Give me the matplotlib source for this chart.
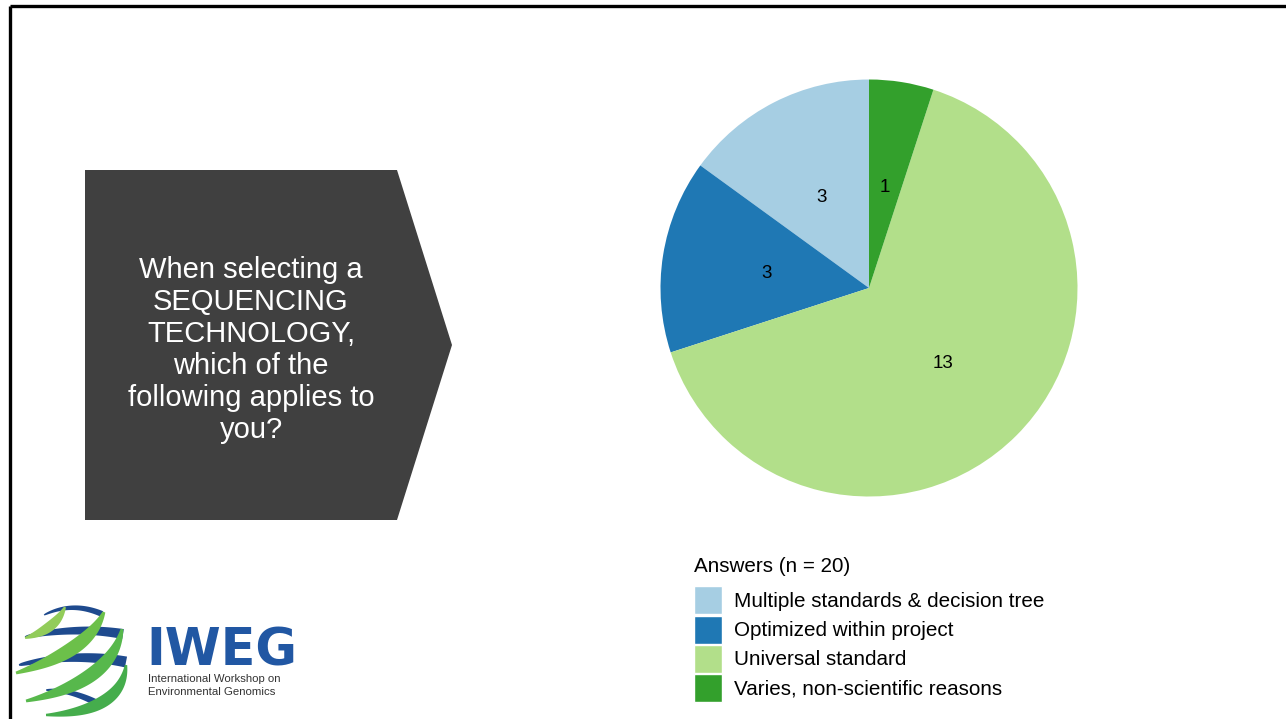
import matplotlib

matplotlib.use("Agg", force=True)

import matplotlib.pyplot as plt
from matplotlib.patches import Polygon
import numpy as np

plt.rcParams["font.family"] = ["Liberation Sans", "DejaVu Sans"]

# survey answers, counter-clockwise from 12 o'clock
categories = [
    "Multiple standards & decision tree",
    "Optimized within project",
    "Universal standard",
    "Varies, non-scientific reasons",
]
counts = [3, 3, 13, 1]
colors = ["#a6cee3", "#1f78b4", "#b2df8a", "#33a02c"]
legend_title = "Answers (n = 20)"
question = "When selecting a\nSEQUENCING\nTECHNOLOGY,\nwhich of the\nfollowing applies to\nyou?"

W, H = 1286, 719
fig = plt.figure(figsize=(W / 100, H / 100), dpi=100)
fig.patch.set_facecolor("white")

# overlay in pixel coordinates for the slide decoration
bg = fig.add_axes([0, 0, 1, 1])
bg.set_xlim(0, W)
bg.set_ylim(H, 0)
bg.axis("off")

# slide frame (top and left rules)
bg.plot([9.5, W], [5.5, 5.5], color="black", lw=2.4, solid_capstyle="butt")
bg.plot([9.5, 9.5], [5.5, H], color="black", lw=2.4, solid_capstyle="butt")

# question box with arrow point
box = Polygon([(85, 170), (397, 170), (452, 345), (397, 520), (85, 520)],
              closed=True, facecolor="#404040", edgecolor="none")
bg.add_patch(box)
bg.text(251, 350, question, color="white", fontsize=21, ha="center",
        va="center", linespacing=1.175)


def _band(p0, p1, p2, wmax, profile, n=50):
    """Ribbon along a quadratic Bezier curve with a width profile."""
    t = np.linspace(0, 1, n)[:, None]
    p0, p1, p2 = map(np.asarray, (p0, p1, p2))
    pts = (1 - t) ** 2 * p0 + 2 * (1 - t) * t * p1 + t ** 2 * p2
    d = 2 * (1 - t) * (p1 - p0) + 2 * t * (p2 - p1)
    nrm = np.column_stack([-d[:, 1], d[:, 0]])
    nrm /= np.linalg.norm(nrm, axis=1)[:, None]
    width = (wmax * profile(t[:, 0]))[:, None]
    top = pts + nrm * width / 2
    bot = pts - nrm * width / 2
    return np.vstack([top, bot[::-1]])


def _swell(t):
    return 0.2 + 0.8 * np.sin(np.pi * t)


def _grow(t):
    return 0.15 + 0.85 * np.sqrt(t)


# IWEG globe logo: blue latitude bands under green ribbons
blue_logo = "#1e4a8e"
for p0, p1, p2, w in [((44, 615), (72, 601), (102, 614), 6),
                      ((25, 637), (75, 626), (123, 634), 10),
                      ((19, 665), (75, 652), (126, 662), 11),
                      ((46, 690), (75, 690), (102, 706), 7)]:
    bg.add_patch(Polygon(_band(p0, p1, p2, w, _grow), facecolor=blue_logo,
                         edgecolor="none"))
for p0, p1, p2, w, c in [((25, 638), (55, 630), (65, 607), 10, "#92cc5a"),
                         ((16, 673), (88, 652), (104, 612), 14, "#6cc04a"),
                         ((26, 701), (112, 682), (122, 629), 14, "#57b84c"),
                         ((46, 715), (122, 712), (126, 665), 12, "#45ad4c")]:
    bg.add_patch(Polygon(_band(p0, p1, p2, w, _swell), facecolor=c,
                         edgecolor="none"))
bg.text(146, 665, "IWEG", color="#2157a3", fontsize=36.5, fontweight="bold",
        family="DejaVu Sans", ha="left", va="baseline")
bg.text(148, 682, "International Workshop on", color="#333333", fontsize=8.2,
        ha="left", va="baseline")
bg.text(148, 695, "Environmental Genomics", color="#333333", fontsize=8.2,
        ha="left", va="baseline")

# pie chart
cx, cy, r = 869, 288, 208.5
ax = fig.add_axes([(cx - r) / W, (H - cy - r) / H, 2 * r / W, 2 * r / H])
wedges, texts = ax.pie(counts, colors=colors, labels=[str(c) for c in counts],
                       labeldistance=0.5, startangle=90, counterclock=True,
                       textprops={"fontsize": 13.5, "color": "black",
                                  "ha": "center", "va": "center_baseline"})
ax.set_xlim(-1, 1)
ax.set_ylim(-1, 1)
ax.set_aspect("equal")

# legend: title as its own line, swatches below
fig.text(694 / W, 1 - 566 / H, legend_title, fontsize=14.9, ha="left",
         va="center")
leg = fig.legend(wedges, categories, loc="upper left",
                 bbox_to_anchor=(686 / W, 1 - 578 / H), frameon=False,
                 fontsize=14.9, handlelength=1.35, handleheight=1.704,
                 handletextpad=0.58, labelspacing=0.06, borderaxespad=0)
for h in leg.legend_handles:
    h.set_edgecolor("white")
    h.set_linewidth(1.0)

fig.savefig("out.png", dpi=100)
